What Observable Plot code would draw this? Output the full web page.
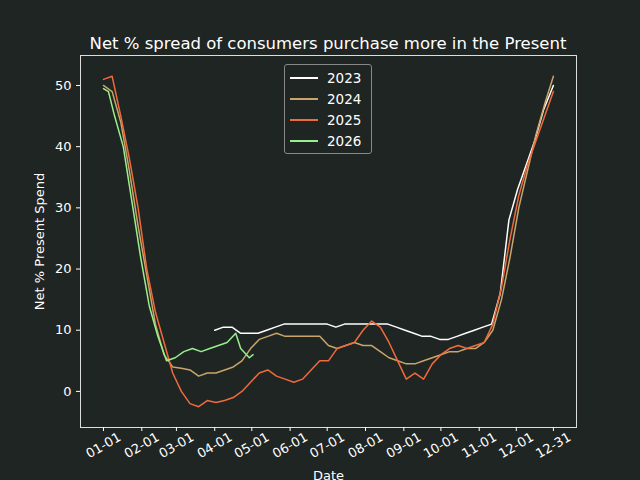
<!DOCTYPE html>
<html><head><meta charset="utf-8">
<script src="https://cdn.jsdelivr.net/npm/d3@7"></script>
<script src="https://cdn.jsdelivr.net/npm/@observablehq/plot@0.6"></script>
<style>
body{margin:0;background:#1f2523;}
#wrap{position:relative;width:640px;height:480px;font-family:"DejaVu Sans",sans-serif;color:#fff;}
#title{position:absolute;top:34px;left:0;width:656px;text-align:center;font-size:16.5px;}
#legend{position:absolute;left:284px;top:64px;width:86px;border:1px solid #888;border-radius:3px;background:#1f2523;padding:2px 0;font-size:13.5px;}
#legend div{display:flex;align-items:center;height:21px;}
#legend span.l{display:inline-block;width:28px;height:2px;margin:0 9px 0 5px;}
</style></head><body>
<div id="wrap"><div id="title">Net % spread of consumers purchase more in the Present</div><div id="chart"></div><div id="legend"></div></div>
<script>
const years=["2023","2024","2025","2026"];
const colors=["#ffffff","#c8a66a","#f06a3c","#98f08c"];
const d2023=["04-01",10,"04-08",10.5,"04-15",10.5,"04-22",9.5,"04-29",9.5,"05-06",9.5,"05-13",10,"05-20",10.5,"05-27",11,"06-03",11,"06-10",11,"06-17",11,"06-24",11,"07-01",11,"07-08",10.5,"07-15",11,"07-22",11,"07-29",11,"08-05",11,"08-12",11,"08-19",11,"08-26",10.5,"09-02",10,"09-09",9.5,"09-16",9,"09-23",9,"09-30",8.5,"10-07",8.5,"10-14",9,"10-21",9.5,"10-28",10,"11-04",10.5,"11-11",11,"11-18",16,"11-25",28,"12-02",33,"12-09",37,"12-16",41,"12-23",46,"12-31",50];
const d2024=["01-01",50,"01-08",49,"01-15",44,"01-22",36,"01-29",27,"02-05",19,"02-12",11,"02-19",6,"02-26",4,"03-05",3.8,"03-12",3.5,"03-19",2.5,"03-26",3,"04-02",3,"04-09",3.5,"04-16",4,"04-23",5,"04-30",7,"05-07",8.5,"05-14",9,"05-21",9.5,"05-28",9,"06-04",9,"06-11",9,"06-18",9,"06-25",9,"07-02",7.5,"07-09",7,"07-16",7.5,"07-23",8,"07-30",7.5,"08-06",7.5,"08-13",6.5,"08-20",5.5,"08-27",5,"09-03",4.5,"09-10",4.5,"09-17",5,"09-24",5.5,"10-01",6,"10-08",6.5,"10-15",6.5,"10-22",7,"10-29",7,"11-05",8,"11-12",10,"11-19",15,"11-26",22,"12-03",30,"12-10",36,"12-17",42,"12-24",47,"12-31",51.5];
const d2025=["01-01",51,"01-08",51.5,"01-15",45,"01-22",38,"01-29",30,"02-05",20,"02-12",13,"02-19",8,"02-26",3,"03-05",0,"03-12",-2,"03-19",-2.5,"03-26",-1.5,"04-02",-1.8,"04-09",-1.5,"04-16",-1,"04-23",0,"04-30",1.5,"05-07",3,"05-14",3.5,"05-21",2.5,"05-28",2,"06-04",1.5,"06-11",2,"06-18",3.5,"06-25",5,"07-02",5,"07-09",7,"07-16",7.5,"07-23",8,"07-30",10,"08-06",11.5,"08-13",10.5,"08-20",8,"08-27",5,"09-03",2,"09-10",3,"09-17",2,"09-24",4.5,"10-01",6,"10-08",7,"10-15",7.5,"10-22",7,"10-29",7.5,"11-05",8,"11-12",11,"11-19",17,"11-26",25,"12-03",32,"12-10",37,"12-17",41,"12-24",45,"12-31",49];
const d2026=["01-01",49.5,"01-05",49,"01-10",45,"01-17",40,"01-24",31,"01-31",22,"02-07",14,"02-14",9,"02-21",5,"02-28",5.5,"03-07",6.5,"03-14",7,"03-21",6.5,"03-28",7,"04-04",7.5,"04-11",8,"04-18",9.5,"04-22",7,"04-29",5.5,"05-02",6];
const tickLabels=["01-01","02-01","03-01","04-01","05-01","06-01","07-01","08-01","09-01","10-01","11-01","12-01","12-31"];
const pd=s=>new Date(Date.UTC(2001,+s.slice(0,2)-1,+s.slice(3)));
const rows=[];
[d2023,d2024,d2025,d2026].forEach((arr,i)=>{for(let k=0;k<arr.length;k+=2)rows.push({year:years[i],date:pd(arr[k]),v:arr[k+1]});});
const x0=new Date(Date.UTC(2001,0,1)).getTime(),day=864e5;
const chart=Plot.plot({
 width:640,height:480,marginTop:55,marginLeft:80,marginRight:64,marginBottom:53,
 style:{background:"#1f2523",color:"#fff",fontFamily:"DejaVu Sans",fontSize:"13px"},
 x:{type:"utc",domain:[new Date(x0-18.6*day),new Date(x0+382.7*day)]},
 y:{domain:[-5.9,54.9]},
 color:{domain:years,range:colors},
 marks:[
  Plot.frame({stroke:"#ddd"}),
  Plot.axisX(tickLabels.map(pd),{tickFormat:d3.utcFormat("%m-%d"),tickRotate:-30,textAnchor:"middle",tickPadding:14,tickSize:4,label:"Date",labelAnchor:"center",labelArrow:"none",labelOffset:52,fontSize:13}),
  Plot.axisY([0,10,20,30,40,50],{tickSize:4,label:"Net % Present Spend",labelAnchor:"center",labelArrow:"none",labelOffset:46,fontSize:13}),
  Plot.line(rows,{x:"date",y:"v",z:"year",stroke:"year",strokeWidth:1.5,curve:"linear"})
 ]
});
document.getElementById("chart").appendChild(chart);
const lg=document.getElementById("legend");
years.forEach((y,i)=>{lg.innerHTML+=`<div><span class="l" style="background:${colors[i]}"></span>${y}</div>`;});
</script></body></html>
